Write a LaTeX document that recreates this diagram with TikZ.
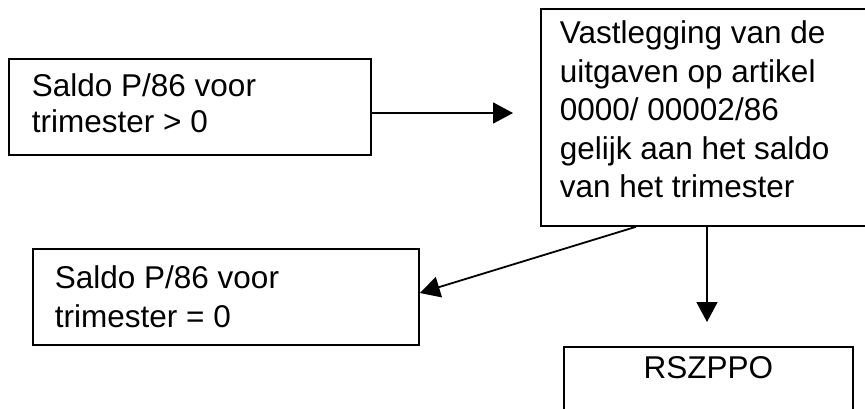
\documentclass[tikz,border=0pt]{standalone}
\usepackage{fontspec}
\setmainfont{Liberation Sans}
\usetikzlibrary{arrows.meta}
\tikzset{
  box/.style={draw, line width=1.8pt, rectangle, inner ysep=0pt, anchor=north west},
  arr/.style={line width=1.8pt, -{Triangle[length=20pt,width=21pt]}}
}
\newcommand{\boxtext}[3]{\parbox[t]{#1}{\raggedright\fontsize{31.5}{#2}\selectfont #3}}
\begin{document}
\begin{tikzpicture}[x=1pt,y=-1pt]
\path[use as bounding box, fill=white] (0,0) rectangle (865,408);
\clip (0,0) rectangle (865,408);
% boxes
\node[box, inner xsep=23pt, text height=38pt, text depth=58pt] (b1) at (8,58)
  {\boxtext{316pt}{36pt}{Saldo P/86 voor\\ trimester > 0}};
\node[box, inner xsep=19pt, text height=35pt, text depth=182pt] (b2) at (540,8)
  {\boxtext{290pt}{38.5pt}{Vastlegging van de\\ uitgaven op artikel\\ 0000/ 00002/86\\ gelijk aan het saldo\\ van het trimester}};
\node[box, inner xsep=22pt, text height=40pt, text depth=56pt] (b3) at (32,248)
  {\boxtext{342pt}{38.5pt}{Saldo P/86 voor\\ trimester = 0}};
\node[box, inner xsep=0pt, minimum width=289pt, text height=32pt, text depth=52pt,
  font=\fontsize{31.5}{37}\selectfont] (b4) at (563,346) {RSZPPO};
% connector helpers
\coordinate (y1) at (0,113);
\coordinate (x2) at (636,0);
\coordinate (x3) at (707,0);
\coordinate (y3) at (0,293);
\draw[arr, shorten >=27pt] (b1.east |- y1) -- (b2.west |- y1);
\draw[arr] (b2.south -| x2) -- (b3.east |- y3);
\draw[arr, shorten >=24pt] (b2.south -| x3) -- (b4.north -| x3);
\end{tikzpicture}
\end{document}
